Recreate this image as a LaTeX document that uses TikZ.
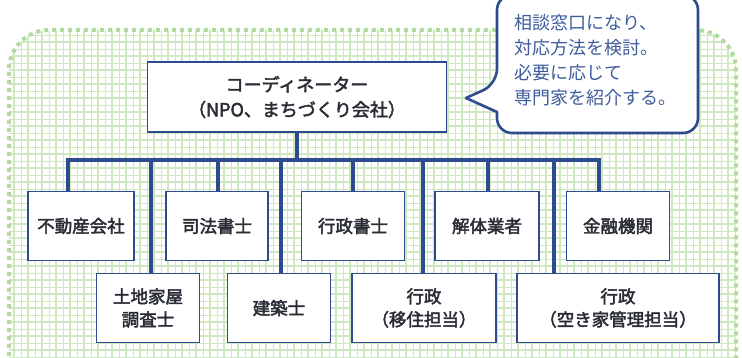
\documentclass[tikz,border=0pt]{standalone}
\usepackage{fontspec}
\setmainfont{Noto Sans CJK JP}[FakeBold=2.5]
\newfontfamily\notejp{Noto Sans CJK JP}
\definecolor{linkblue}{HTML}{2E4B8E}
\definecolor{textblue}{HTML}{3F5C9C}
\definecolor{gridgreen}{HTML}{CFE8C0}
\definecolor{dotgreen}{HTML}{B3DAA0}
\definecolor{inkgray}{HTML}{2A2D35}
\tikzset{>=stealth,
  member/.style={draw=linkblue, line width=1.4pt, fill=white, inner sep=0pt,
    minimum height=69pt, align=center, text=inkgray, font=\fontsize{17.5}{23}\selectfont},
  link/.style={draw=linkblue, line width=3.2pt},
  bubble/.style={draw=linkblue, line width=2.6pt, fill=white, line join=round}}

\begin{document}
\begin{tikzpicture}[x=1pt, y=-1pt]
\useasboundingbox (0,0) rectangle (742,358);
% background sheet
\begin{scope}
\clip[rounded corners=40pt] (9,30) rectangle (736,420);
\fill[white] (9,30) rectangle (736,420);
\draw[gridgreen, line width=0.8pt, step=7pt] (0,28) grid (742,420);
\draw[gridgreen, line width=1.5pt, step=14pt] (0,28) grid (742,420);
\end{scope}
\draw[dotgreen, line width=4pt, dash pattern=on 4pt off 4pt, rounded corners=40pt] (9,420) -- (9,30) -- (736,30) -- (736,420);

% coordinator and speech bubble
\node[member, minimum width=299pt, minimum height=70pt, font=\fontsize{18}{25}\selectfont] (coord) at (297,97) {コーディネーター\\（NPO、まちづくり会社）};
\draw[bubble] (497,84) -- (466,98) -- (497,112) [rounded corners=15pt] -- (497,133) -- (698,133) -- (698,-5) -- (497,-5) -- cycle;
\node[align=left, anchor=west, text=textblue, font=\notejp\fontsize{18}{25}\selectfont] (advice) at (511,60) {相談窓口になり、\\対応方法を検討。\\必要に応じて\\専門家を紹介する。};

% top row
\node[member, minimum width=106pt] (fudo) at (81,226) {不動産会社};
\node[member, minimum width=102pt] (shiho) at (217,226) {司法書士};
\node[member, minimum width=103pt] (gyosei) at (353,226) {行政書士};
\node[member, minimum width=104pt] (kaitai) at (487,226) {解体業者};
\node[member, minimum width=103pt] (kinyu) at (618,226) {金融機関};
% bottom row
\node[member, minimum width=103pt] (tochi) at (148,308) {土地家屋\\調査士};
\node[member, minimum width=103pt] (kenchiku) at (279,308) {建築士};
\node[member, minimum width=144pt] (iju) at (424,308) {行政\\（移住担当）};
\node[member, minimum width=202pt] (akiya) at (618,308) {行政\\（空き家管理担当）};

% bus
\coordinate (busL) at (68,160);
\coordinate (busR) at (599,160);
\draw[link] (coord.south) -- (coord.south |- busL);
\draw[link] (busL |- fudo.north) -- (busL) -- (busR) -- (busR |- kinyu.north);
\foreach \x/\n in {151/tochi,218/shiho,281/kenchiku,353/gyosei,423/iju,488/kaitai,554/akiya}
{
\coordinate (bus-\n) at (\x,160);
\draw[link] (bus-\n) -- (bus-\n |- \n.north);
}
\end{tikzpicture}
\end{document}
